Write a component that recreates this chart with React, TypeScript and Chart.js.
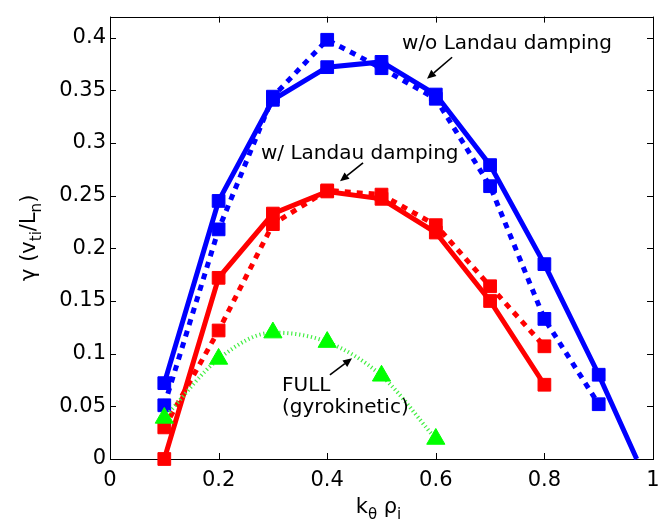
import React, { useEffect, useRef } from 'react';
import { Chart, registerables } from 'chart.js';

Chart.register(...registerables);

// k_theta rho_i values
const kValues = [0.1, 0.2, 0.3, 0.4, 0.5, 0.6, 0.7, 0.8, 0.9];
const kValuesRed = [0.1, 0.2, 0.3, 0.4, 0.5, 0.6, 0.7, 0.8];
const kValuesFull = [0.1, 0.2, 0.3, 0.4, 0.5, 0.6];

// w/o Landau damping (blue)
const blueSolidX = [0.1, 0.2, 0.3, 0.4, 0.5, 0.6, 0.7, 0.8, 0.9, 0.97];
const blueSolid = [0.072, 0.245, 0.341, 0.372, 0.377, 0.346, 0.279, 0.185, 0.080, 0.0];
const blueDotted = [0.051, 0.218, 0.344, 0.398, 0.371, 0.342, 0.259, 0.133, 0.052];

// w/ Landau damping (red)
const redSolid = [0.0, 0.172, 0.233, 0.254, 0.247, 0.215, 0.150, 0.0705];
const redDotted = [0.030, 0.122, 0.223, 0.255, 0.251, 0.222, 0.164, 0.107];

// FULL (gyrokinetic) (green)
const fullGyro = [0.039, 0.095, 0.120, 0.111, 0.079, 0.019];

// axis ticks
const xTicks = [0, 0.2, 0.4, 0.6, 0.8, 1];
const yTicks = [0, 0.05, 0.1, 0.15, 0.2, 0.25, 0.3, 0.35, 0.4];

const FONT = '"DejaVu Sans", "Liberation Sans", sans-serif';

type Part = { t: string; sub?: boolean };

function drawRich(ctx: CanvasRenderingContext2D, parts: Part[], cx: number, baseY: number, size: number, subSize: number, subDrop: number) {
  let total = 0;
  const widths = parts.map((p) => {
    ctx.font = `${p.sub ? subSize : size}px ${FONT}`;
    const w = ctx.measureText(p.t).width;
    total += w;
    return w;
  });
  let x = cx - total / 2;
  ctx.textAlign = 'left';
  ctx.textBaseline = 'alphabetic';
  parts.forEach((p, i) => {
    ctx.font = `${p.sub ? subSize : size}px ${FONT}`;
    ctx.fillText(p.t, x, baseY + (p.sub ? subDrop : 0));
    x += widths[i];
  });
}

function arrow(ctx: CanvasRenderingContext2D, x1: number, y1: number, x2: number, y2: number) {
  const ang = Math.atan2(y2 - y1, x2 - x1);
  const hl = 9;
  const hw = 4;
  const bx = x2 - hl * Math.cos(ang);
  const by = y2 - hl * Math.sin(ang);
  ctx.strokeStyle = '#000';
  ctx.lineWidth = 1.6;
  ctx.beginPath();
  ctx.moveTo(x1, y1);
  ctx.lineTo(bx, by);
  ctx.stroke();
  ctx.fillStyle = '#000';
  ctx.beginPath();
  ctx.moveTo(x2, y2);
  ctx.lineTo(bx + hw * Math.sin(ang), by - hw * Math.cos(ang));
  ctx.lineTo(bx - hw * Math.sin(ang), by + hw * Math.cos(ang));
  ctx.closePath();
  ctx.fill();
}

const framePlugin = {
  id: 'frame',
  beforeDatasetsDraw(chart: any) {
    const { ctx, chartArea: a } = chart;
    const xs = chart.scales.x;
    const ys = chart.scales.y;
    ctx.save();
    ctx.strokeStyle = '#000';
    ctx.lineWidth = 1;
    ctx.strokeRect(Math.round(a.left) + 0.5, Math.round(a.top) + 0.5, Math.round(a.right - a.left), Math.round(a.bottom - a.top));
    const tl = 6;
    ctx.beginPath();
    xTicks.forEach((v) => {
      const px = Math.round(xs.getPixelForValue(v)) + 0.5;
      ctx.moveTo(px, a.bottom);
      ctx.lineTo(px, a.bottom - tl);
      ctx.moveTo(px, a.top);
      ctx.lineTo(px, a.top + tl);
    });
    yTicks.forEach((v) => {
      const py = Math.round(ys.getPixelForValue(v)) + 0.5;
      ctx.moveTo(a.left, py);
      ctx.lineTo(a.left + tl, py);
      ctx.moveTo(a.right, py);
      ctx.lineTo(a.right - tl, py);
    });
    ctx.stroke();

    // axis titles
    ctx.fillStyle = '#000';
    drawRich(ctx, [{ t: 'k' }, { t: 'θ', sub: true }, { t: ' ρ' }, { t: 'i', sub: true }], (a.left + a.right) / 2 - 3, 513, 21, 15, 6);
    ctx.save();
    ctx.translate(35, (a.top + a.bottom) / 2);
    ctx.rotate(-Math.PI / 2);
    drawRich(ctx, [{ t: 'γ (v' }, { t: 'ti', sub: true }, { t: '/L' }, { t: 'n', sub: true }, { t: ')' }], 0, 0, 21, 15, 6);
    ctx.restore();
    ctx.restore();
  },
  afterDatasetsDraw(chart: any) {
    const { ctx } = chart;
    const xs = chart.scales.x;
    const ys = chart.scales.y;
    const X = (v: number) => xs.getPixelForValue(v);
    const Y = (v: number) => ys.getPixelForValue(v);
    ctx.save();
    ctx.fillStyle = '#000';
    ctx.textAlign = 'left';
    ctx.textBaseline = 'alphabetic';
    ctx.font = `20px ${FONT}`;
    ctx.fillText('w/o Landau damping', X(0.5378), Y(0.3889));
    ctx.fillText('w/ Landau damping', X(0.278), Y(0.2849));
    ctx.fillText('FULL', X(0.3168), Y(0.065));
    ctx.fillText('(gyrokinetic)', X(0.3168), Y(0.0436));
    arrow(ctx, X(0.630), Y(0.3814), X(0.5838), Y(0.361));
    arrow(ctx, X(0.466), Y(0.2812), X(0.4236), Y(0.2636));
    arrow(ctx, X(0.405), Y(0.0798), X(0.4457), Y(0.0956));
    ctx.restore();
  },
};

const pts = (xs: number[], ys: number[]) => xs.map((x, i) => ({ x, y: ys[i] }));

export default function App() {
  const ref = useRef<HTMLCanvasElement | null>(null);
  useEffect(() => {
    if (!ref.current) return;
    const blue = '#0000ff';
    const red = '#ff0000';
    const green = '#00ff00';
    const chart = new Chart(ref.current, {
      type: 'scatter',
      data: {
        datasets: [
          {
            label: 'FULL (gyrokinetic)',
            data: pts(kValuesFull, fullGyro),
            showLine: true,
            borderColor: '#44ee44',
            borderWidth: 4,
            borderDash: [1.2, 2.8],
            cubicInterpolationMode: 'monotone',
            tension: 0.4,
            pointStyle: 'triangle',
            pointRadius: 10.5,
            pointBackgroundColor: green,
            pointBorderColor: green,
            pointBorderWidth: 1,
            clip: false,
          },
          {
            label: 'w/ Landau dotted',
            data: pts(kValuesRed, redDotted),
            showLine: true,
            borderColor: red,
            borderWidth: 5,
            borderDash: [6, 6],
            pointStyle: 'rect',
            pointRadius: 9,
            pointBackgroundColor: red,
            pointBorderColor: red,
            pointBorderWidth: 1,
            clip: false,
          },
          {
            label: 'w/ Landau solid',
            data: pts(kValuesRed, redSolid),
            showLine: true,
            borderColor: red,
            borderWidth: 5,
            pointStyle: 'rect',
            pointRadius: 9,
            pointBackgroundColor: red,
            pointBorderColor: red,
            pointBorderWidth: 1,
            clip: false,
          },
          {
            label: 'w/o Landau dotted',
            data: pts(kValues, blueDotted),
            showLine: true,
            borderColor: blue,
            borderWidth: 5,
            borderDash: [6, 6],
            pointStyle: 'rect',
            pointRadius: 9,
            pointBackgroundColor: blue,
            pointBorderColor: blue,
            pointBorderWidth: 1,
            clip: false,
          },
          {
            label: 'w/o Landau solid',
            data: pts(blueSolidX, blueSolid),
            showLine: true,
            borderColor: blue,
            borderWidth: 5,
            pointStyle: 'rect',
            pointRadius: blueSolidX.map((x) => (x > 0.95 ? 0 : 9)),
            pointBackgroundColor: blue,
            pointBorderColor: blue,
            pointBorderWidth: 1,
            clip: false,
          },
        ],
      },
      options: {
        animation: false,
        responsive: false,
        devicePixelRatio: 1,
        layout: { padding: { left: 0, top: 6, right: 19, bottom: 0 }, autoPadding: false },
        plugins: { legend: { display: false }, tooltip: { enabled: false } },
        scales: {
          x: {
            type: 'linear',
            min: 0,
            max: 1,
            afterFit: (s: any) => { s.height = 70; },
            grid: { display: false, drawTicks: false },
            border: { display: false },
            ticks: {
              stepSize: 0.2,
              includeBounds: false,
              padding: 9,
              color: '#000',
              font: { family: FONT, size: 21 },
              callback: (v: any) => String(+Number(v).toFixed(2)),
            },
          },
          y: {
            type: 'linear',
            min: 0,
            max: 0.42,
            afterFit: (s: any) => { s.width = 110; },
            grid: { display: false, drawTicks: false },
            border: { display: false },
            ticks: {
              stepSize: 0.05,
              includeBounds: false,
              padding: 4,
              color: '#000',
              font: { family: FONT, size: 21 },
              callback: (v: any) => String(+Number(v).toFixed(2)),
            },
          },
        },
      },
      plugins: [framePlugin],
    });
    return () => chart.destroy();
  }, []);
  return (
    <div style={{ position: 'fixed', left: 0, top: 0, width: 672, height: 529, background: '#fff' }}>
      <canvas ref={ref} width={672} height={529} />
    </div>
  );
}
